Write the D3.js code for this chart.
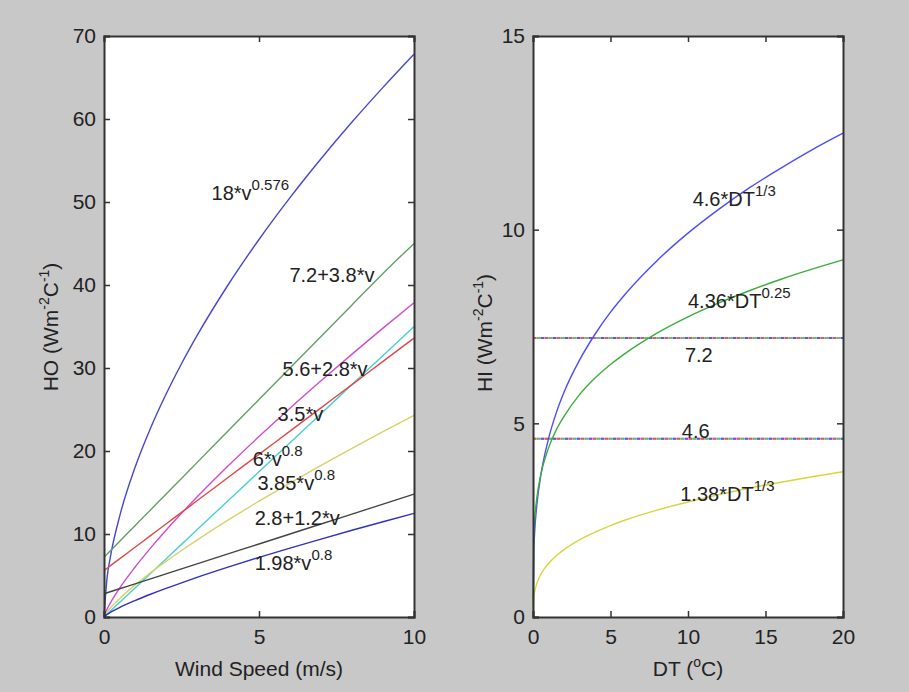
<!DOCTYPE html>
<html>
<head>
<meta charset="utf-8">
<script src="https://cdn.jsdelivr.net/npm/d3@7"></script>
<style>
  body { margin: 0; background: #c8c8c8; }
  text { font-family: "Liberation Sans", Arial, sans-serif; fill: #222; }
</style>
</head>
<body>
<div id="content"></div>
<script>
// left panel: outside heat transfer coefficient vs wind speed
const windSpeed = [0, 0.1, 0.2, 0.5, 1, 1.5, 2, 2.5, 3, 4, 5, 6, 7, 8, 9, 10];
const ho18 = [0, 4.78, 7.12, 12.07, 18, 22.74, 26.83, 30.51, 33.89, 40.0, 45.48, 50.52, 55.21, 59.63, 63.81, 67.81];
const ho72 = [7.2, 7.58, 7.96, 9.1, 11, 12.9, 14.8, 16.7, 18.6, 22.4, 26.2, 30, 33.8, 37.6, 41.4, 45];
const ho6 = [0, 0.95, 1.66, 3.45, 6, 8.3, 10.45, 12.49, 14.45, 18.19, 21.74, 25.16, 28.46, 31.67, 34.8, 37.86];
const ho35 = [0, 0.35, 0.7, 1.75, 3.5, 5.25, 7, 8.75, 10.5, 14, 17.5, 21, 24.5, 28, 31.5, 35];
const ho56 = [5.6, 5.88, 6.16, 7, 8.4, 9.8, 11.2, 12.6, 14, 16.8, 19.6, 22.4, 25.2, 28, 30.8, 33.6];
const ho385 = [0, 0.61, 1.06, 2.21, 3.85, 5.33, 6.7, 8.01, 9.27, 11.67, 13.95, 16.14, 18.26, 20.32, 22.33, 24.29];
const ho28 = [2.8, 2.92, 3.04, 3.4, 4, 4.6, 5.2, 5.8, 6.4, 7.6, 8.8, 10, 11.2, 12.4, 13.6, 14.8];
const ho198 = [0, 0.31, 0.55, 1.14, 1.98, 2.74, 3.45, 4.12, 4.77, 6.0, 7.18, 8.3, 9.39, 10.45, 11.48, 12.49];

// right panel: inside coefficient vs temperature difference
const deltaT = [0, 0.05, 0.1, 0.25, 0.5, 1, 1.5, 2, 3, 4, 5, 6, 8, 10, 12, 14, 16, 18, 20];
const hi46 = [0, 1.69, 2.14, 2.9, 3.65, 4.6, 5.27, 5.8, 6.63, 7.3, 7.87, 8.36, 9.2, 9.91, 10.53, 11.09, 11.59, 12.06, 12.49];
const hi436 = [0, 2.06, 2.45, 3.08, 3.67, 4.36, 4.83, 5.18, 5.74, 6.17, 6.52, 6.82, 7.33, 7.75, 8.11, 8.43, 8.72, 8.98, 9.22];
const hi138 = [0, 0.51, 0.64, 0.87, 1.1, 1.38, 1.58, 1.74, 1.99, 2.19, 2.36, 2.51, 2.76, 2.97, 3.16, 3.33, 3.48, 3.62, 3.75];
const hiConst = [7.2, 4.6];

const leftXTicks = [0, 5, 10];
const leftYTicks = [0, 10, 20, 30, 40, 50, 60, 70];
const rightXTicks = [0, 5, 10, 15, 20];
const rightYTicks = [0, 5, 10, 15];

const leftSeries = [
  { values: ho18, color: '#4646d2' },
  { values: ho72, color: '#62a062' },
  { values: ho6, color: '#d24ad2' },
  { values: ho35, color: '#48d0d0' },
  { values: ho56, color: '#e24848' },
  { values: ho385, color: '#d4d46a' },
  { values: ho28, color: '#444444' },
  { values: ho198, color: '#3030c4' }
];
const rightSeries = [
  { values: hi46, color: '#4c4cff' },
  { values: hi436, color: '#3aae3a' },
  { values: hi138, color: '#d6d63e' }
];

const leftLabels = [
  { text: '18*v', sup: '0.576', x: 3.47, y: 50.2 },
  { text: '7.2+3.8*v', sup: '', x: 5.98, y: 40.4 },
  { text: '5.6+2.8*v', sup: '', x: 5.76, y: 29.0 },
  { text: '3.5*v', sup: '', x: 5.6, y: 23.6 },
  { text: '6*v', sup: '0.8', x: 4.8, y: 18.2 },
  { text: '3.85*v', sup: '0.8', x: 4.95, y: 15.3 },
  { text: '2.8+1.2*v', sup: '', x: 4.86, y: 11.1 },
  { text: '1.98*v', sup: '0.8', x: 4.86, y: 5.66 }
];
const rightLabels = [
  { text: '4.6*DT', sup: '1/3', x: 10.3, y: 10.6 },
  { text: '4.36*DT', sup: '0.25', x: 10.0, y: 7.98 },
  { text: '7.2', sup: '', x: 9.8, y: 6.58 },
  { text: '4.6', sup: '', x: 9.6, y: 4.62 },
  { text: '1.38*DT', sup: '1/3', x: 9.5, y: 2.99 }
];

const width = 909;
const height = 692;
const plotTop = 36;
const plotBottom = 617;

const svg = d3.select('#content')
  .append('svg')
  .attr('width', width)
  .attr('height', height);

svg.append('rect')
  .attr('width', width)
  .attr('height', height)
  .attr('fill', '#c8c8c8');

function drawPanel(opts) {
  const x = d3.scaleLinear().domain(opts.xDomain).range([opts.left, opts.right]);
  const y = d3.scaleLinear().domain(opts.yDomain).range([plotBottom, plotTop]);

  svg.append('rect')
    .attr('x', opts.left)
    .attr('y', plotTop)
    .attr('width', opts.right - opts.left)
    .attr('height', plotBottom - plotTop)
    .attr('fill', '#fff');

  const g = svg.append('g');

  // constant lines (right panel) drawn as overlapping coloured dashes
  (opts.hLines || []).forEach((v) => {
    const yy = y(v);
    g.append('line')
      .attr('x1', opts.left).attr('x2', opts.right)
      .attr('y1', yy).attr('y2', yy)
      .attr('stroke', '#b0a0c8').attr('stroke-width', 2);
    [['#e05a5a', 0], ['#5a5ae0', 4], ['#6ac06a', 8]].forEach(([c, off]) => {
      g.append('line')
        .attr('x1', opts.left).attr('x2', opts.right)
        .attr('y1', yy).attr('y2', yy)
        .attr('stroke', c).attr('stroke-width', 2)
        .attr('stroke-dasharray', '3,9')
        .attr('stroke-dashoffset', off);
    });
  });

  const line = d3.line()
    .x((d, i) => x(opts.xs[i]))
    .y(d => y(d))
    .curve(d3.curveMonotoneX);

  g.selectAll('path.series')
    .data(opts.series)
    .enter()
    .append('path')
    .attr('class', 'series')
    .attr('d', d => line(d.values))
    .attr('fill', 'none')
    .attr('stroke', d => d.color)
    .attr('stroke-width', 1.4);

  // curve labels with superscripts
  opts.labels.forEach((l) => {
    const t = svg.append('text')
      .attr('x', x(l.x))
      .attr('y', y(l.y))
      .attr('font-size', 20);
    t.append('tspan').text(l.text);
    if (l.sup) {
      t.append('tspan').attr('dy', -10).attr('font-size', 15).text(l.sup);
    }
  });

  // axes with inward ticks on all four sides
  const fmt = d3.format('d');
  svg.append('g')
    .attr('transform', `translate(0,${plotBottom})`)
    .call(d3.axisBottom(x).tickValues(opts.xTicks).tickFormat(fmt).tickSize(-6).tickPadding(12));
  svg.append('g')
    .attr('transform', `translate(0,${plotTop})`)
    .call(d3.axisTop(x).tickValues(opts.xTicks).tickFormat('').tickSize(-6));
  svg.append('g')
    .attr('transform', `translate(${opts.left},0)`)
    .call(d3.axisLeft(y).tickValues(opts.yTicks).tickFormat(fmt).tickSize(-6).tickPadding(8));
  svg.append('g')
    .attr('transform', `translate(${opts.right},0)`)
    .call(d3.axisRight(y).tickValues(opts.yTicks).tickFormat('').tickSize(-6));

  svg.selectAll('.domain').attr('stroke', '#333').attr('stroke-width', 2);
  svg.selectAll('.tick line').attr('stroke', '#333').attr('stroke-width', 1.5);
  svg.selectAll('.tick text')
    .attr('font-size', 21)
    .attr('font-family', '"Liberation Sans", Arial, sans-serif')
    .attr('fill', '#222');

  // x label
  const xl = svg.append('text')
    .attr('x', (opts.left + opts.right) / 2)
    .attr('y', 676)
    .attr('text-anchor', 'middle')
    .attr('font-size', 21);
  opts.xLabel.forEach((p) => {
    const s = xl.append('tspan').text(p.t);
    if (p.sup) s.attr('font-size', 14).attr('dy', -9);
    if (p.down) s.attr('dy', 9);
  });

  // y label
  const yl = svg.append('text')
    .attr('transform', `translate(${opts.yLabelX},${opts.yLabelY}) rotate(-90)`)
    .attr('text-anchor', 'middle')
    .attr('font-size', 21);
  opts.yLabel.forEach((p) => {
    const s = yl.append('tspan').text(p.t);
    if (p.sup) s.attr('font-size', 14).attr('dy', -9);
    if (p.down) s.attr('dy', 9);
  });
}

const yLab = name => [
  { t: name + ' (Wm' },
  { t: '-2', sup: true },
  { t: 'C', down: true },
  { t: '-1', sup: true },
  { t: ')', down: true }
];

drawPanel({
  left: 104, right: 414,
  xDomain: [0, 10], yDomain: [0, 70],
  xs: windSpeed, series: leftSeries, labels: leftLabels,
  xTicks: leftXTicks, yTicks: leftYTicks,
  xLabel: [{ t: 'Wind Speed (m/s)' }],
  yLabel: yLab('HO'), yLabelX: 58, yLabelY: 327
});

drawPanel({
  left: 533, right: 843,
  xDomain: [0, 20], yDomain: [0, 15],
  xs: deltaT, series: rightSeries, labels: rightLabels,
  xTicks: rightXTicks, yTicks: rightYTicks,
  hLines: hiConst,
  xLabel: [{ t: 'DT (' }, { t: 'o', sup: true }, { t: 'C)', down: true }],
  yLabel: yLab('HI'), yLabelX: 492, yLabelY: 333
});
</script>
</body>
</html>
